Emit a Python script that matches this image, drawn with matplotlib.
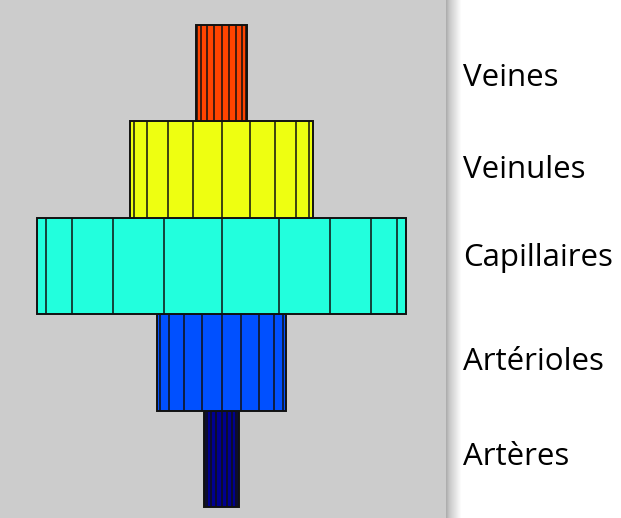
import numpy as np
import matplotlib
matplotlib.use("Agg")
import matplotlib.pyplot as plt

# vessel types from bottom to top
labels = ["Artères", "Artérioles", "Capillaires", "Veinules", "Veines"]
diameters = [35, 129, 369, 183, 51]
heights = [1, 1, 1, 1, 1]
colors = ["#000090", "#0050ff", "#22ffdd", "#eeff11", "#ff4400"]

W, H = 621, 518
fig = plt.figure(figsize=(W / 100, H / 100), dpi=100)
fig.patch.set_facecolor("white")

panel_w = 447
ax = fig.add_axes([0, 0, panel_w / W, 1])
ax.set_facecolor("#cccccc")
for s in ax.spines.values():
    s.set_visible(False)
ax.set_xticks([])
ax.set_yticks([])

px = 96.4  # pixels per level
ax.set_xlim(-221.5, panel_w - 221.5)
ax.set_ylim(-11 / px, (H - 11) / px)

angles = np.deg2rad(np.arange(-4, 5) * 18)
bottom = 0
for d, h, c in zip(diameters, heights, colors):
    ax.bar(0, h, width=d, bottom=bottom, color=c, edgecolor="#111111", linewidth=1.4, zorder=2)
    xs = d / 2 * np.sin(angles)
    ax.vlines(xs, bottom, bottom + h, colors="#111111", linewidth=1.3, alpha=0.85, zorder=3)
    bottom += h

# shadow along the panel edge
sh = fig.add_axes([446 / W, 0, 16 / W, 1])
grad = np.concatenate([np.linspace(0.68, 0.78, 4), np.linspace(0.8, 1.0, 12)])
sh.imshow(grad[np.newaxis, :], cmap="gray", vmin=0, vmax=1, aspect="auto", extent=[0, 1, 0, 1])
sh.axis("off")

# labels on the right
label_base = [465, 370, 266, 178, 86]
for lab, yb in zip(labels, label_base):
    fig.text(463 / W, 1 - yb / H, lab, fontsize=22.5, family="Open Sans", va="baseline", ha="left", color="black")

fig.savefig("out.png", dpi=100)
